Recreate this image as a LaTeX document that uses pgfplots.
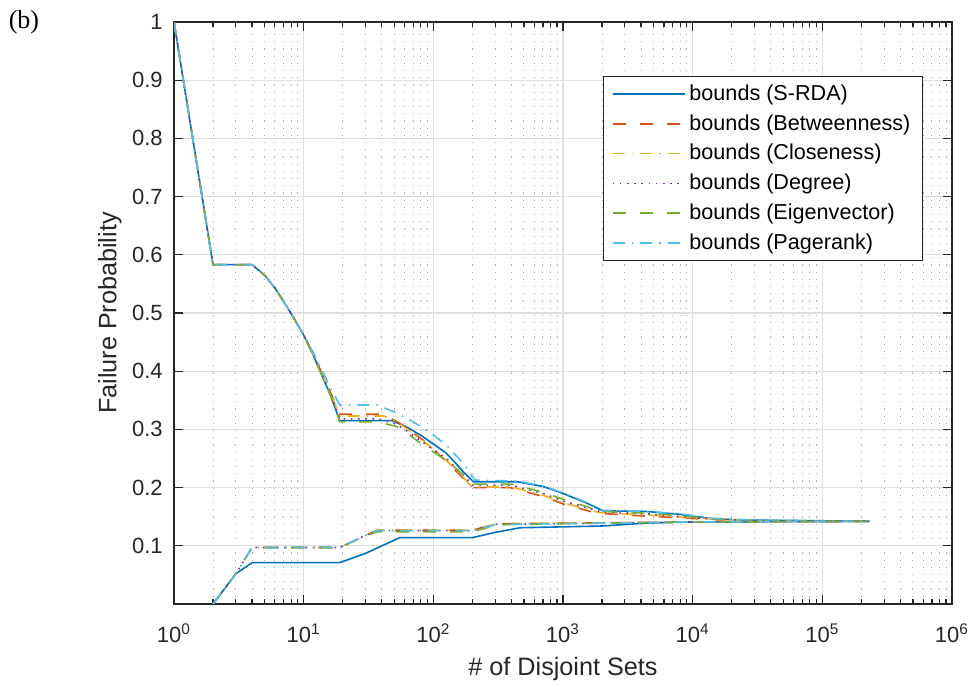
\documentclass[border=0pt]{standalone}
\usepackage{pgfplots}
\pgfplotsset{compat=1.18}
\usepackage{fontspec}
\setmainfont{Liberation Sans}
\newfontfamily\serifb{Liberation Serif}
\definecolor{c1}{rgb}{0,0.447,0.741}
\definecolor{c2}{rgb}{0.85,0.325,0.098}
\definecolor{c3}{rgb}{0.929,0.694,0.125}
\definecolor{c4}{rgb}{0.494,0.184,0.556}
\definecolor{c5}{rgb}{0.466,0.674,0.188}
\definecolor{c6}{rgb}{0.301,0.745,0.933}
\begin{document}
\begin{tikzpicture}
\begin{axis}[
  at={(0,0)}, anchor=south west,
  scale only axis, width=389bp, height=291bp,
  xmode=log, xmin=1, xmax=1e6, ymin=0, ymax=1,
  xtick={1,10,100,1000,10000,100000,1000000},
  xticklabels={10\textsuperscript{0},10\textsuperscript{1},10\textsuperscript{2},10\textsuperscript{3},10\textsuperscript{4},10\textsuperscript{5},10\textsuperscript{6}},
  minor xtick={2,3,4,5,6,7,8,9,20,30,40,50,60,70,80,90,200,300,400,500,600,700,800,900,2000,3000,4000,5000,6000,7000,8000,9000,20000,30000,40000,50000,60000,70000,80000,90000,200000,300000,400000,500000,600000,700000,800000,900000},
  ytick={0.1,0.2,0.3,0.4,0.5,0.6,0.7,0.8,0.9,1},
  yticklabels={0.1,0.2,0.3,0.4,0.5,0.6,0.7,0.8,0.9,1},
  minor y tick num=0,
  xmajorgrids, ymajorgrids, xminorgrids,
  major grid style={color=black!13, line width=0.6bp},
  minor grid style={color=black!32, dash pattern=on 0.6bp off 3bp, line width=0.5bp},
  tick align=inside,
  major tick length=4.5bp, minor tick length=2.5bp,
  every tick/.style={black!85, line width=0.6bp},
  axis line style={black!85, line width=0.8bp},
  tick label style={font=\fontsize{11bp}{13bp}\selectfont, text=black!85},
  xticklabel style={anchor=base, yshift=-19bp},
  yticklabel style={anchor=east, inner sep=0pt, xshift=-5.5bp},
  xlabel={\# of Disjoint Sets},
  ylabel={Failure Probability},
  label style={font=\fontsize{12.6bp}{15bp}\selectfont, text=black!85},
  xlabel style={at={(axis description cs:0.5,-0.1237)}, anchor=base},
  ylabel style={at={(axis description cs:-0.0823,0.5)}, anchor=center},
  legend style={at={(0.9627,0.9072)}, anchor=north east, draw=black!85, line width=0.6bp, fill=white,
    font=\fontsize{10.8bp}{12.5bp}\selectfont, cells={anchor=west}, row sep=1.6bp, inner xsep=4bp, inner ysep=2bp},
  legend image code/.code={\draw[#1] (0bp,0bp) -- (36bp,0bp);},
]
% upper bounds
\addplot[draw=c1, line width=0.8bp] table {
1 1
2 0.583
4 0.583
5 0.565
6 0.543
7 0.520
8 0.499
10 0.462
12 0.425
14 0.390
16 0.360
19 0.315
48 0.315
60 0.306
80 0.290
100 0.275
126 0.259
150 0.241
170 0.227
204 0.210
445 0.210
700 0.202
1000 0.190
1500 0.174
2040 0.160
4400 0.159
8000 0.154
14400 0.146
30000 0.144
100000 0.143
233000 0.142
};
\addlegendentry{bounds (S-RDA)}
\addplot[draw=c2, line width=0.8bp, dash pattern=on 6.5bp off 7bp] table {
1 1
2 0.583
4 0.583
5 0.565
6 0.543
7 0.520
8 0.499
10 0.462
12 0.427
14 0.394
16 0.365
19 0.326
40 0.326
50 0.316
60 0.305
83 0.282
126 0.245
170 0.216
195 0.200
390 0.200
700 0.185
1000 0.172
1820 0.156
4400 0.151
14400 0.145
30000 0.143
233000 0.142
};
\addlegendentry{bounds (Betweenness)}
\addplot[draw=c3, line width=0.8bp, dash pattern=on 6bp off 3.5bp on 0.8bp off 3.5bp] table {
1 1
2 0.583
4 0.583
5 0.565
6 0.543
7 0.520
8 0.499
10 0.462
12 0.426
14 0.393
16 0.364
19 0.323
42 0.323
50 0.315
60 0.304
83 0.281
126 0.247
170 0.218
198 0.201
400 0.201
700 0.187
1000 0.174
1900 0.157
4400 0.153
14400 0.146
30000 0.143
233000 0.142
};
\addlegendentry{bounds (Closeness)}
\addplot[draw=c4, line width=0.8bp, dash pattern=on 0.8bp off 2.8bp] table {
1 1
2 0.583
4 0.583
5 0.565
6 0.543
7 0.520
8 0.499
10 0.462
12 0.426
14 0.392
16 0.362
19 0.318
38 0.318
50 0.310
60 0.300
83 0.278
126 0.250
170 0.222
200 0.204
400 0.204
700 0.190
1000 0.177
2000 0.158
4400 0.155
14400 0.146
30000 0.143
233000 0.142
};
\addlegendentry{bounds (Degree)}
\addplot[draw=c5, line width=0.8bp, dash pattern=on 6.5bp off 7bp] table {
1 1
2 0.583
4 0.583
5 0.565
6 0.543
7 0.520
8 0.499
10 0.462
12 0.425
14 0.390
16 0.360
19 0.313
37 0.313
52 0.305
60 0.297
83 0.273
126 0.247
170 0.222
200 0.206
400 0.206
700 0.192
1000 0.180
2000 0.159
4400 0.156
14400 0.147
30000 0.144
233000 0.142
};
\addlegendentry{bounds (Eigenvector)}
\addplot[draw=c6, line width=0.8bp, dash pattern=on 6bp off 3.5bp on 0.8bp off 3.5bp] table {
1 1
2 0.583
4 0.583
5 0.565
6 0.543
7 0.520
8 0.499
10 0.463
12 0.430
14 0.400
16 0.372
19 0.342
37 0.342
50 0.330
70 0.313
94 0.295
126 0.273
170 0.242
210 0.213
445 0.211
700 0.203
1000 0.191
1500 0.175
2040 0.161
4400 0.159
8000 0.155
14400 0.147
30000 0.144
100000 0.143
233000 0.142
};
\addlegendentry{bounds (Pagerank)}
% lower bounds
\addplot[draw=c1, line width=0.8bp, forget plot] table {
2 0
3 0.052
4 0.071
19 0.071
30 0.087
45 0.105
55 0.114
200 0.114
300 0.123
465 0.131
2000 0.134
4400 0.139
10000 0.141
233000 0.142
};
\addplot[draw=c2, line width=0.8bp, dash pattern=on 6.5bp off 7bp, forget plot] table {
2 0
3 0.052
4 0.097
19 0.097
30 0.118
37 0.127
200 0.127
310 0.138
1000 0.139
10000 0.141
233000 0.142
};
\addplot[draw=c3, line width=0.8bp, dash pattern=on 6bp off 3.5bp on 0.8bp off 3.5bp, forget plot] table {
2 0
3 0.052
4 0.097
19 0.097
30 0.118
37 0.127
200 0.127
310 0.138
1000 0.139
10000 0.141
233000 0.142
};
\addplot[draw=c4, line width=0.8bp, dash pattern=on 0.8bp off 2.8bp, forget plot] table {
2 0
3 0.052
4 0.097
19 0.097
30 0.118
37 0.126
200 0.126
310 0.137
1000 0.138
10000 0.141
233000 0.142
};
\addplot[draw=c5, line width=0.8bp, dash pattern=on 6.5bp off 7bp, forget plot] table {
2 0
3 0.052
4 0.097
19 0.097
30 0.117
37 0.124
200 0.124
310 0.136
1000 0.138
10000 0.141
233000 0.142
};
\addplot[draw=c6, line width=0.8bp, dash pattern=on 6bp off 3.5bp on 0.8bp off 3.5bp, forget plot] table {
2 0
3 0.052
4 0.097
19 0.097
30 0.118
37 0.126
200 0.126
310 0.137
1000 0.138
10000 0.141
233000 0.142
};
\end{axis}
\pgfresetboundingbox
\path[use as bounding box] (-87bp,-41.5bp) rectangle (400bp,302bp);
\node[font=\serifb\fontsize{13bp}{15bp}\selectfont] at (-75bp,291bp) {(b)};
\end{tikzpicture}
\end{document}
